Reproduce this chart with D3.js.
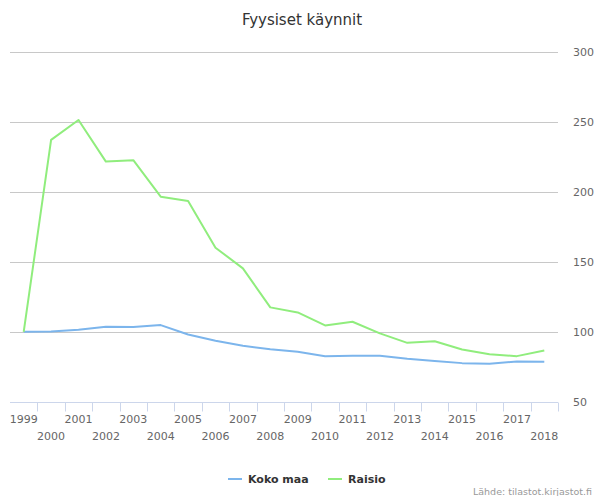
<!DOCTYPE html>
<html>
<head>
<meta charset="utf-8">
<script src="https://cdn.jsdelivr.net/npm/d3@7/dist/d3.min.js"></script>
<style>
  body { margin: 0; background: #fff; }
  svg { font-family: "DejaVu Sans", sans-serif; }
</style>
</head>
<body>
<svg id="chart" width="594" height="496"></svg>
<script>
// data
const years = ["1999","2000","2001","2002","2003","2004","2005","2006","2007","2008",
  "2009","2010","2011","2012","2013","2014","2015","2016","2017","2018"];
const kokoMaa = [100, 100.3, 101.4, 103.6, 103.4, 104.8, 98.1, 93.6, 90.0, 87.6,
  85.7, 82.6, 82.8, 82.8, 80.7, 79.2, 77.6, 77.1, 78.8, 78.6];
const raisio = [100, 237.3, 251.6, 221.8, 222.8, 196.7, 193.6, 160.2, 145.4, 117.5,
  113.9, 104.6, 107.2, 98.9, 92.1, 93.3, 87.4, 84.0, 82.6, 86.7];
const yTicks = [50, 100, 150, 200, 250, 300];
const seriesNames = ["Koko maa", "Raisio"];
const colors = ["#7cb5ec", "#90ed7d"];

const svg = d3.select("#chart");
const plotLeft = 10, plotRight = 558, plotTop = 52.3, plotBottom = 401.7;

// skaalat
const x = d3.scaleBand().domain(years).range([plotLeft, plotRight]);
const y = d3.scaleLinear().domain([50, 300]).range([plotBottom, plotTop]);

// otsikko
svg.append("text")
  .attr("x", 302).attr("y", 25)
  .attr("text-anchor", "middle")
  .style("font-size", "15px").style("fill", "#333")
  .text("Fyysiset käynnit");

// ruudukko
svg.append("g")
  .selectAll("line")
  .data(yTicks.filter(d => d > 50))
  .enter().append("line")
  .attr("x1", plotLeft).attr("x2", plotRight)
  .attr("y1", d => Math.round(y(d)) + 0.5).attr("y2", d => Math.round(y(d)) + 0.5)
  .attr("stroke", "#c8c8c8").attr("stroke-width", 1);

// y-akselin tekstit oikealla
svg.append("g")
  .selectAll("text")
  .data(yTicks)
  .enter().append("text")
  .attr("x", 573).attr("y", d => y(d) + 4)
  .style("font-size", "11px").style("fill", "#666")
  .text(d => d);

// x-akseli
const xAxis = svg.append("g").attr("transform", `translate(0,${Math.round(plotBottom) + 0.5})`);
xAxis.append("line")
  .attr("x1", plotLeft).attr("x2", plotRight)
  .attr("stroke", "#ccd6eb");
const boundaries = years.map(d => x(d)).concat([plotRight]).slice(1);
xAxis.selectAll(".tick")
  .data(boundaries)
  .enter().append("line")
  .attr("class", "tick")
  .attr("x1", d => Math.round(d) + 0.5).attr("x2", d => Math.round(d) + 0.5)
  .attr("y1", 0).attr("y2", 9)
  .attr("stroke", "#ccd6eb");
xAxis.selectAll("text")
  .data(years)
  .enter().append("text")
  .attr("x", d => x(d) + x.bandwidth() / 2)
  .attr("y", (d, i) => i % 2 === 0 ? 20 : 37.5)
  .attr("text-anchor", "middle")
  .style("font-size", "11px").style("fill", "#666")
  .text(d => d);

// viivat
const line = d3.line()
  .x((d, i) => x(years[i]) + x.bandwidth() / 2)
  .y(d => y(d));

[kokoMaa, raisio].forEach((s, k) => {
  svg.append("path")
    .datum(s)
    .attr("d", line)
    .attr("fill", "none")
    .attr("stroke", colors[k])
    .attr("stroke-width", 2)
    .attr("stroke-linejoin", "round");
});

// selite
const legendX = [228, 328];
seriesNames.forEach((name, k) => {
  const g = svg.append("g").attr("transform", `translate(${legendX[k]},479)`);
  g.append("line").attr("x1", 0).attr("x2", 14)
    .attr("stroke", colors[k]).attr("stroke-width", 2);
  g.append("text").attr("x", 20).attr("y", 4)
    .style("font-size", "11px").style("font-weight", "bold").style("fill", "#333")
    .text(name);
});

// lähde
svg.append("text")
  .attr("x", 592).attr("y", 495)
  .attr("text-anchor", "end")
  .style("font-size", "9.5px").style("fill", "#999")
  .text("Lähde: tilastot.kirjastot.fi");
</script>
</body>
</html>
